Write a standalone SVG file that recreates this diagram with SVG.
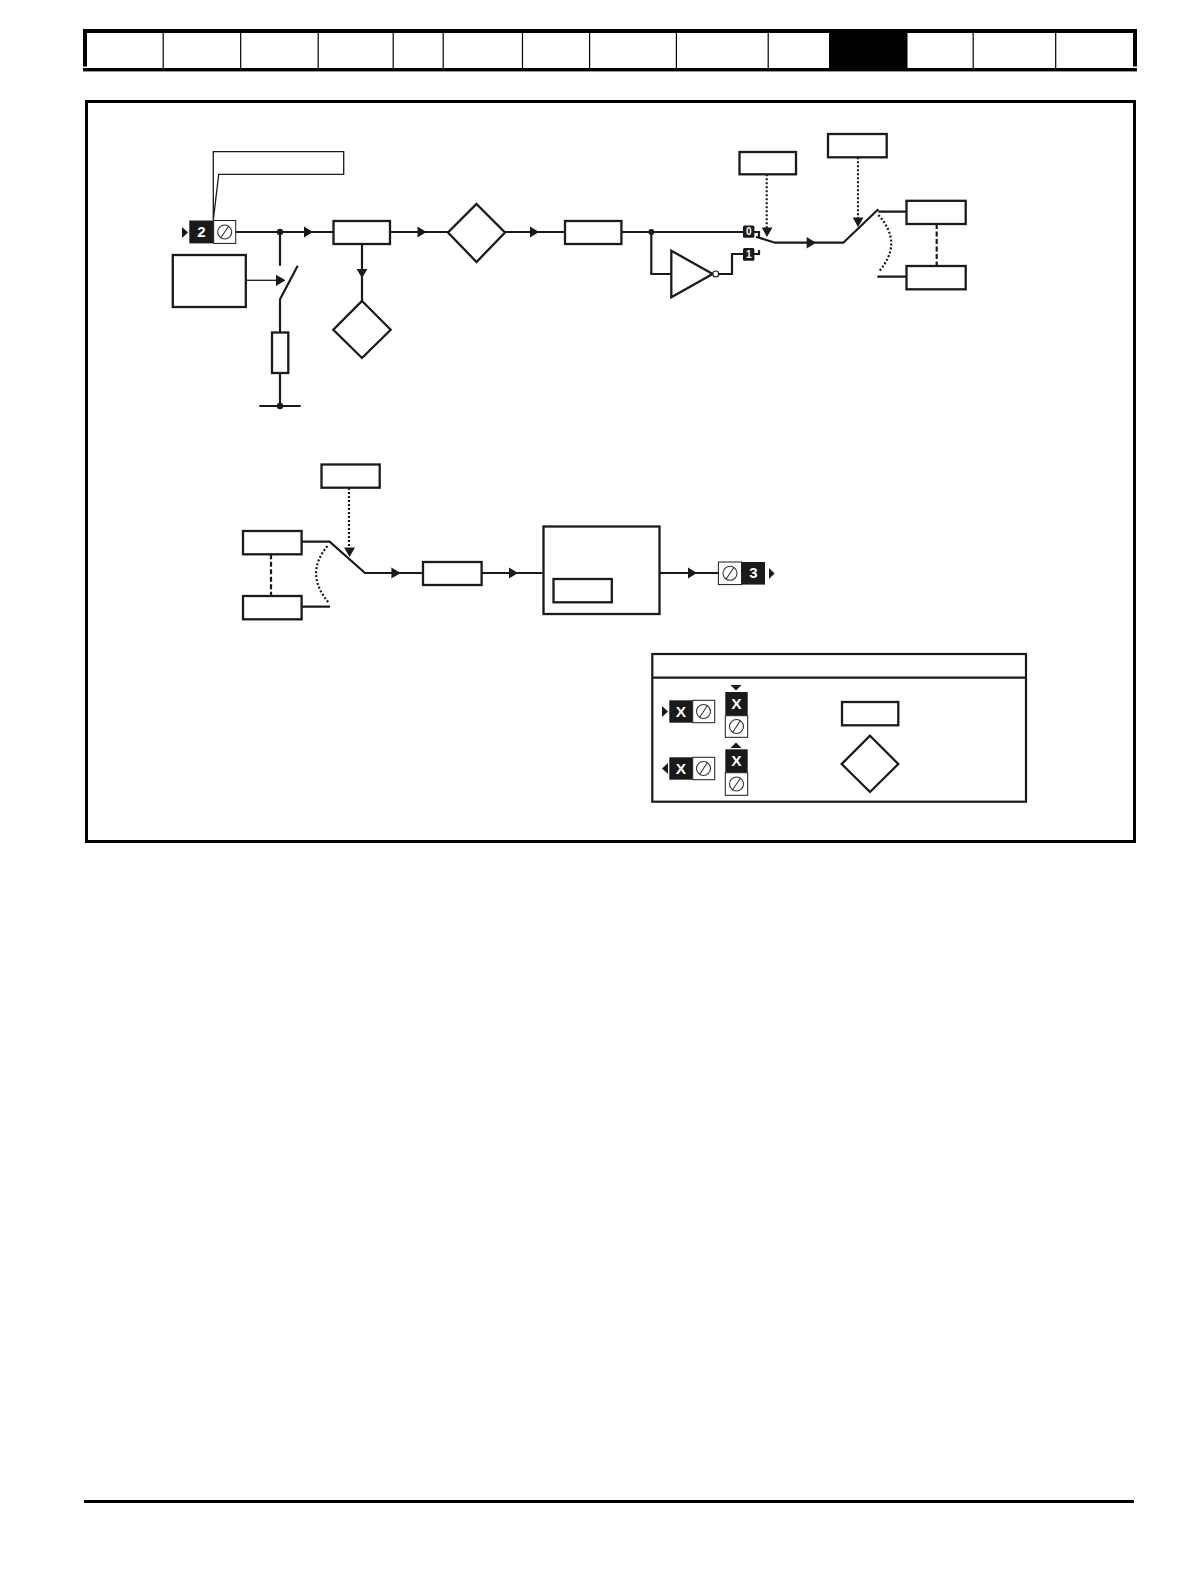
<svg xmlns="http://www.w3.org/2000/svg" width="1190" height="1580" viewBox="0 0 1190 1580">
<style>
.box{fill:#fff;stroke:#1a1a1a;stroke-width:2.3}
.w{fill:none;stroke:#1a1a1a;stroke-width:2.2}
.t{fill:none;stroke:#1a1a1a;stroke-width:1.3}
.dot{fill:none;stroke:#1a1a1a;stroke-width:2.2;stroke-dasharray:2 2}
.dash{fill:none;stroke:#1a1a1a;stroke-width:2.2;stroke-dasharray:5 2.5}
.a{fill:#1a1a1a;stroke:none}
.blk{fill:#1a1a1a}
.wht{fill:#fff;stroke:#1a1a1a;stroke-width:1}
.scr{fill:none;stroke:#333;stroke-width:1.1}
.lab{font-family:"Liberation Sans",Arial,sans-serif;font-weight:700;fill:#fff;text-anchor:middle}
.bar{fill:#000}
.div{stroke:#000;stroke-width:1.2}
</style>
<defs>
<g id="screw"><circle r="7" class="scr"/><line x1="-4" y1="6" x2="4" y2="-6" class="scr"/></g>
</defs>
<g id="header">
<rect class="bar" x="83" y="29" width="1054" height="4"/>
<rect class="bar" x="83" y="68" width="1054" height="3.4"/>
<rect class="bar" x="83" y="29" width="4" height="37.5"/>
<rect class="bar" x="1133" y="29" width="4" height="37.5"/>
<rect class="bar" x="829" y="29" width="78.5" height="42"/>
<path class="div" d="M163.2 33V68M240.7 33V68M318.2 33V68M393.2 33V68M443.2 33V68M522.5 33V68M589.6 33V68M676.4 33V68M768.2 33V68M973.2 33V68M1055.7 33V68"/>
</g>
<rect id="frame" x="86.5" y="101.5" width="1048" height="740" fill="none" stroke="#000" stroke-width="3"/>
<rect id="footer" x="84" y="1500" width="1050" height="3" fill="#000"/>

<g id="connectors">
<path class="w" d="M236 232H333M390 232H448M505 232H565M621 232H743.5"/>
<path class="w" d="M362 244V301"/>
<path class="w" d="M280 232V265.7M280 299.3L297.7 265.7M280 299.3V332M280 373V406M259.3 406H300.7"/>
<path class="t" d="M246 280.3H278"/>
<path class="w" d="M651.3 232V274H671.3M719 274H732V254H743.5"/>
<path class="w" d="M754 232H759V237M754 254H759V250M756 236.7L775 242.7H843.3L878.3 209.3M878.3 211.7H906M877.3 276.7H906"/>
<path class="dot" d="M766.7 174.3V228M858 157.3V218M349 488V548"/>
<path class="dot" d="M878.3 215Q904 243 878.5 272M327.5 546Q304 574 329 603"/>
<path class="dash" d="M936.7 224V265.3M271 554.3V595.3"/>
<path class="w" d="M301.6 541.7H329.6L365 573H422.3M301.6 606.7H330M481.6 573H542.6M659.5 573H718.4"/>
<path class="t" d="M213.3 220L213.3 151.7H343.7V174.3H218.7L213.3 220"/>
<circle class="a" cx="280" cy="232" r="3.2"/>
<circle class="a" cx="280" cy="406" r="3.2"/>
<circle class="a" cx="651.3" cy="232" r="3"/>
<path class="a" d="M304 226.5V237.5L313 232ZM417.5 226.5V237.5L426.5 232ZM530 226.5V237.5L539 232ZM806.7 237V248.4L816 242.7ZM391.4 567.5V578.5L400.7 573ZM509 567.5V578.5L518 573ZM688 567.5V578.5L697 573ZM276 274.7V286L285.5 280.3Z"/>
<path class="a" d="M356.5 269H367.5L362 278ZM761.7 227.5H772.5L767 237ZM852.7 217.5H863.5L858 227ZM344 547.5H355L349.6 557Z"/>
</g>

<g id="term2">
<path class="a" d="M182 227V238L188 232.5Z"/>
<rect class="blk" x="189.3" y="220.5" width="24.4" height="22.9"/>
<rect class="wht" x="213.7" y="220.5" width="22" height="22.9"/>
<use href="#screw" x="224.7" y="232"/>
<text class="lab" x="201.5" y="237" font-size="15">2</text>
</g>
<g id="relay-box"><rect class="box" x="172.8" y="255" width="73" height="52"/></g>
<g id="resistor"><rect class="box" x="272" y="332.5" width="16.3" height="40.5"/></g>
<g id="filter1"><rect class="box" x="333.5" y="221" width="56.5" height="23"/></g>
<g id="diamond-lower"><path class="box" d="M362 301L390.7 329.7L362 358L333.3 329.7Z"/></g>
<g id="diamond-main"><path class="box" d="M476.5 204L505 232.5L476.5 262L448 232.5Z"/></g>
<g id="filter2"><rect class="box" x="565" y="221" width="56.4" height="23"/></g>
<g id="inverter">
<path class="box" d="M671.3 250.7V297.3L712.7 274Z"/>
<circle cx="715.7" cy="274" r="3" fill="#fff" stroke="#1a1a1a" stroke-width="1.2"/>
</g>
<g id="in0"><rect class="blk" x="743" y="225.5" width="11.4" height="12.2" rx="1.5"/><text class="lab" x="748.7" y="235.2" font-size="10" font-weight="400">0</text></g>
<g id="in1"><rect class="blk" x="743" y="248" width="11.4" height="12.7" rx="1.5"/><text class="lab" x="748.7" y="258" font-size="10" font-weight="400">1</text></g>
<g id="ctrl1"><rect class="box" x="739.5" y="152" width="56.5" height="22.3"/></g>
<g id="ctrl2"><rect class="box" x="828" y="134" width="58.7" height="23.3"/></g>
<g id="sel-top"><rect class="box" x="906.5" y="200.8" width="59.2" height="23.2"/></g>
<g id="sel-bot"><rect class="box" x="906.5" y="266" width="59.2" height="23.3"/></g>

<g id="ctrl3"><rect class="box" x="321.5" y="464.5" width="58.2" height="23.2"/></g>
<g id="sel2-top"><rect class="box" x="243" y="531" width="58.6" height="23.3"/></g>
<g id="sel2-bot"><rect class="box" x="243" y="596" width="58.6" height="23.3"/></g>
<g id="filter3"><rect class="box" x="423" y="562" width="58.6" height="23"/></g>
<g id="output-block"><rect class="box" x="543.5" y="526.5" width="116" height="87.5"/></g>
<g id="output-inner"><rect class="box" x="553.5" y="579" width="58.3" height="23.3"/></g>
<g id="term3">
<rect class="wht" x="718.4" y="562" width="23.2" height="22.6"/>
<rect class="blk" x="741.6" y="562" width="23.4" height="22.6"/>
<use href="#screw" x="730" y="573.3"/>
<text class="lab" x="753.3" y="578.4" font-size="15">3</text>
<path class="a" d="M769 568V579L774.6 573.5Z"/>
</g>

<g id="legend">
<rect x="652.3" y="654" width="373.7" height="147.7" fill="#fff" stroke="#1a1a1a" stroke-width="2.2"/>
<path class="w" d="M652.3 677.7H1026"/>
</g>
<g id="leg-t1">
<path class="a" d="M662 706V717L668 711.5Z"/>
<rect class="blk" x="669.3" y="700.3" width="23.4" height="22.4"/>
<rect class="wht" x="692.7" y="700.3" width="22" height="22.4"/>
<use href="#screw" x="703.5" y="711.5"/>
<text class="lab" x="681" y="716.8" font-size="15.5">X</text>
</g>
<g id="leg-t2">
<path class="a" d="M662 763V774L668 768.5Z" transform="rotate(180 665 768.5)"/>
<rect class="blk" x="669.3" y="757.3" width="23.4" height="22.4"/>
<rect class="wht" x="692.7" y="757.3" width="22" height="22.4"/>
<use href="#screw" x="703.5" y="768.5"/>
<text class="lab" x="681" y="773.8" font-size="15.5">X</text>
</g>
<g id="leg-t3">
<path class="a" d="M730.5 685H741.5L736 690.5Z"/>
<rect class="blk" x="725.3" y="692" width="22.4" height="23.7"/>
<rect class="wht" x="725.3" y="715.7" width="22.4" height="21.6"/>
<use href="#screw" x="736.5" y="726.5"/>
<text class="lab" x="736.5" y="709" font-size="15.5">X</text>
</g>
<g id="leg-t4">
<path class="a" d="M730.5 748H741.5L736 742.5Z"/>
<rect class="blk" x="725.3" y="749.3" width="22.4" height="23.4"/>
<rect class="wht" x="725.3" y="772.7" width="22.4" height="22.6"/>
<use href="#screw" x="736.5" y="784"/>
<text class="lab" x="736.5" y="766.2" font-size="15.5">X</text>
</g>
<g id="leg-rect"><rect class="box" x="842" y="702" width="56.3" height="23.3"/></g>
<g id="leg-diamond"><path class="box" d="M870 735.7L898.3 764L870 792L841.7 764Z"/></g>
</svg>
